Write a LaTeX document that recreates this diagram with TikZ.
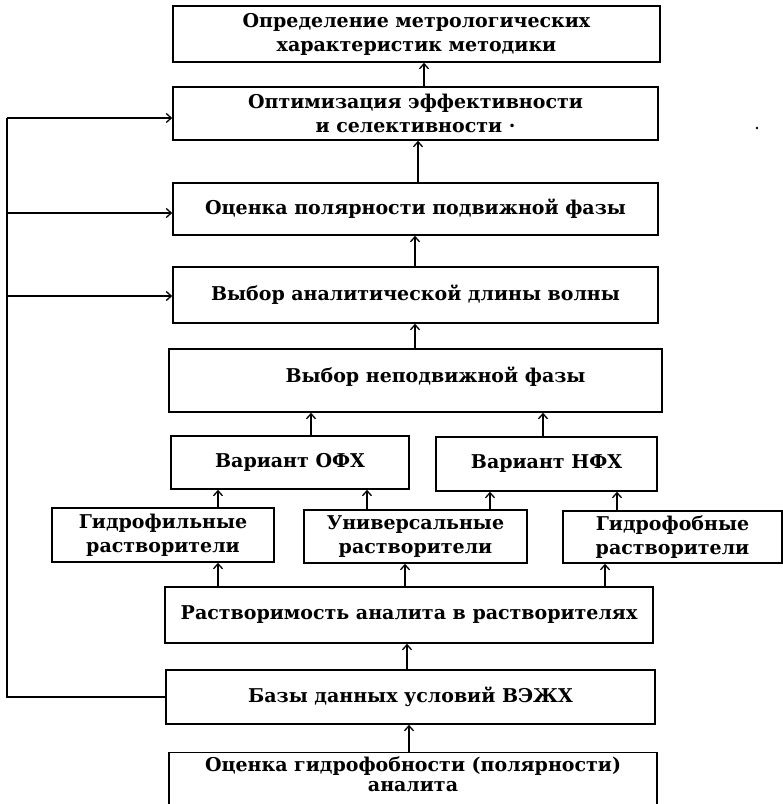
\documentclass[tikz,border=0pt]{standalone}
\usepackage{fontspec}
\setmainfont{DejaVu Serif}
\usetikzlibrary{arrows.meta}

\tikzset{
  blk/.style={draw, line width=1.6pt, inner sep=2pt, align=center,
    font=\bfseries\fontsize{19}{24}\selectfont},
  arr/.style={line width=1.5pt, -{Straight Barb[length=5pt,width=9pt,line width=1.3pt]}},
  ln/.style={line width=1.5pt}
}

\begin{document}
\begin{tikzpicture}[x=1pt,y=-1pt]
  %%%%% frame %%%%%
  \useasboundingbox (0,0) rectangle (783,804);

  %%%%% top column %%%%%
  \node[blk, minimum width=487, minimum height=56] (metr) at (416.5,34)
    {Определение метрологических\\характеристик методики};
  \node[blk, minimum width=485, minimum height=53] (optim) at (415.5,113.5)
    {Оптимизация эффективности\\и селективности ·};
  \node[blk, minimum width=485, minimum height=52] (polar) at (415.5,209)
    {Оценка полярности подвижной фазы};
  \node[blk, minimum width=485, minimum height=56] (volna) at (415.5,295)
    {Выбор аналитической длины волны};
  \node[blk, minimum width=493, minimum height=63] (nepodv) at (415.5,380.5)
    {\hspace*{40pt}Выбор неподвижной фазы\\[-13pt]};

  %%%%% variants %%%%%
  \node[blk, minimum width=238, minimum height=53] (ofx) at (290,462.5)
    {Вариант ОФХ};
  \node[blk, minimum width=221, minimum height=54] (nfx) at (546.5,464)
    {Вариант НФХ};

  %%%%% solvents %%%%%
  \node[blk, minimum width=222, minimum height=54] (gfil) at (163,535)
    {Гидрофильные\\растворители};
  \node[blk, minimum width=223, minimum height=53] (univ) at (415.5,536.5)
    {Универсальные\\растворители};
  \node[blk, minimum width=219, minimum height=52] (gfob) at (672.5,537)
    {Гидрофобные\\растворители};

  %%%%% bottom column %%%%%
  \node[blk, minimum width=488, minimum height=56] (rastv) at (409,615)
    {Растворимость аналита в растворителях};
  \node[blk, minimum width=489, minimum height=54] (bazy) at (410.5,697)
    {Базы данных условий ВЭЖХ};
  \node[blk, minimum width=488, minimum height=55, font=\bfseries\fontsize{19}{20}\selectfont]
    (ocen) at (413,780) {Оценка гидрофобности (полярности)\\аналита\\[-8pt]};

  %%%%% arrows up %%%%%
  \draw[arr] (optim.north -| 424,0) -- (metr.south -| 424,0);
  \draw[arr] (polar.north -| 418,0) -- (optim.south -| 418,0);
  \draw[arr] (volna.north -| 415,0) -- (polar.south -| 415,0);
  \draw[arr] (nepodv.north -| 415,0) -- (volna.south -| 415,0);
  \draw[arr] (ofx.north -| 311,0) -- (nepodv.south -| 311,0);
  \draw[arr] (nfx.north -| 543,0) -- (nepodv.south -| 543,0);
  \draw[arr] (gfil.north -| 218,0) -- (ofx.south -| 218,0);
  \draw[arr] (univ.north -| 367,0) -- (ofx.south -| 367,0);
  \draw[arr] (univ.north -| 490,0) -- (nfx.south -| 490,0);
  \draw[arr] (gfob.north -| 617,0) -- (nfx.south -| 617,0);
  \draw[arr] (rastv.north -| 218,0) -- (gfil.south -| 218,0);
  \draw[arr] (rastv.north -| 405,0) -- (univ.south -| 405,0);
  \draw[arr] (rastv.north -| 605,0) -- (gfob.south -| 605,0);
  \draw[arr] (bazy.north -| 407,0) -- (rastv.south -| 407,0);
  \draw[arr] (ocen.north -| 409,0) -- (bazy.south -| 409,0);

  %%%%% feedback loop %%%%%
  \coordinate (fb) at (7,118);
  \draw[ln] (bazy.west) -| (fb);
  \draw[arr] (fb) -- (fb -| optim.west);
  \draw[arr] (fb |- 0,213) -- (polar.west |- 0,213);
  \draw[arr] (fb |- 0,296) -- (volna.west |- 0,296);

  %%%%% stray dot %%%%%
  \fill (757,128) circle (1.3);
\end{tikzpicture}
\end{document}
